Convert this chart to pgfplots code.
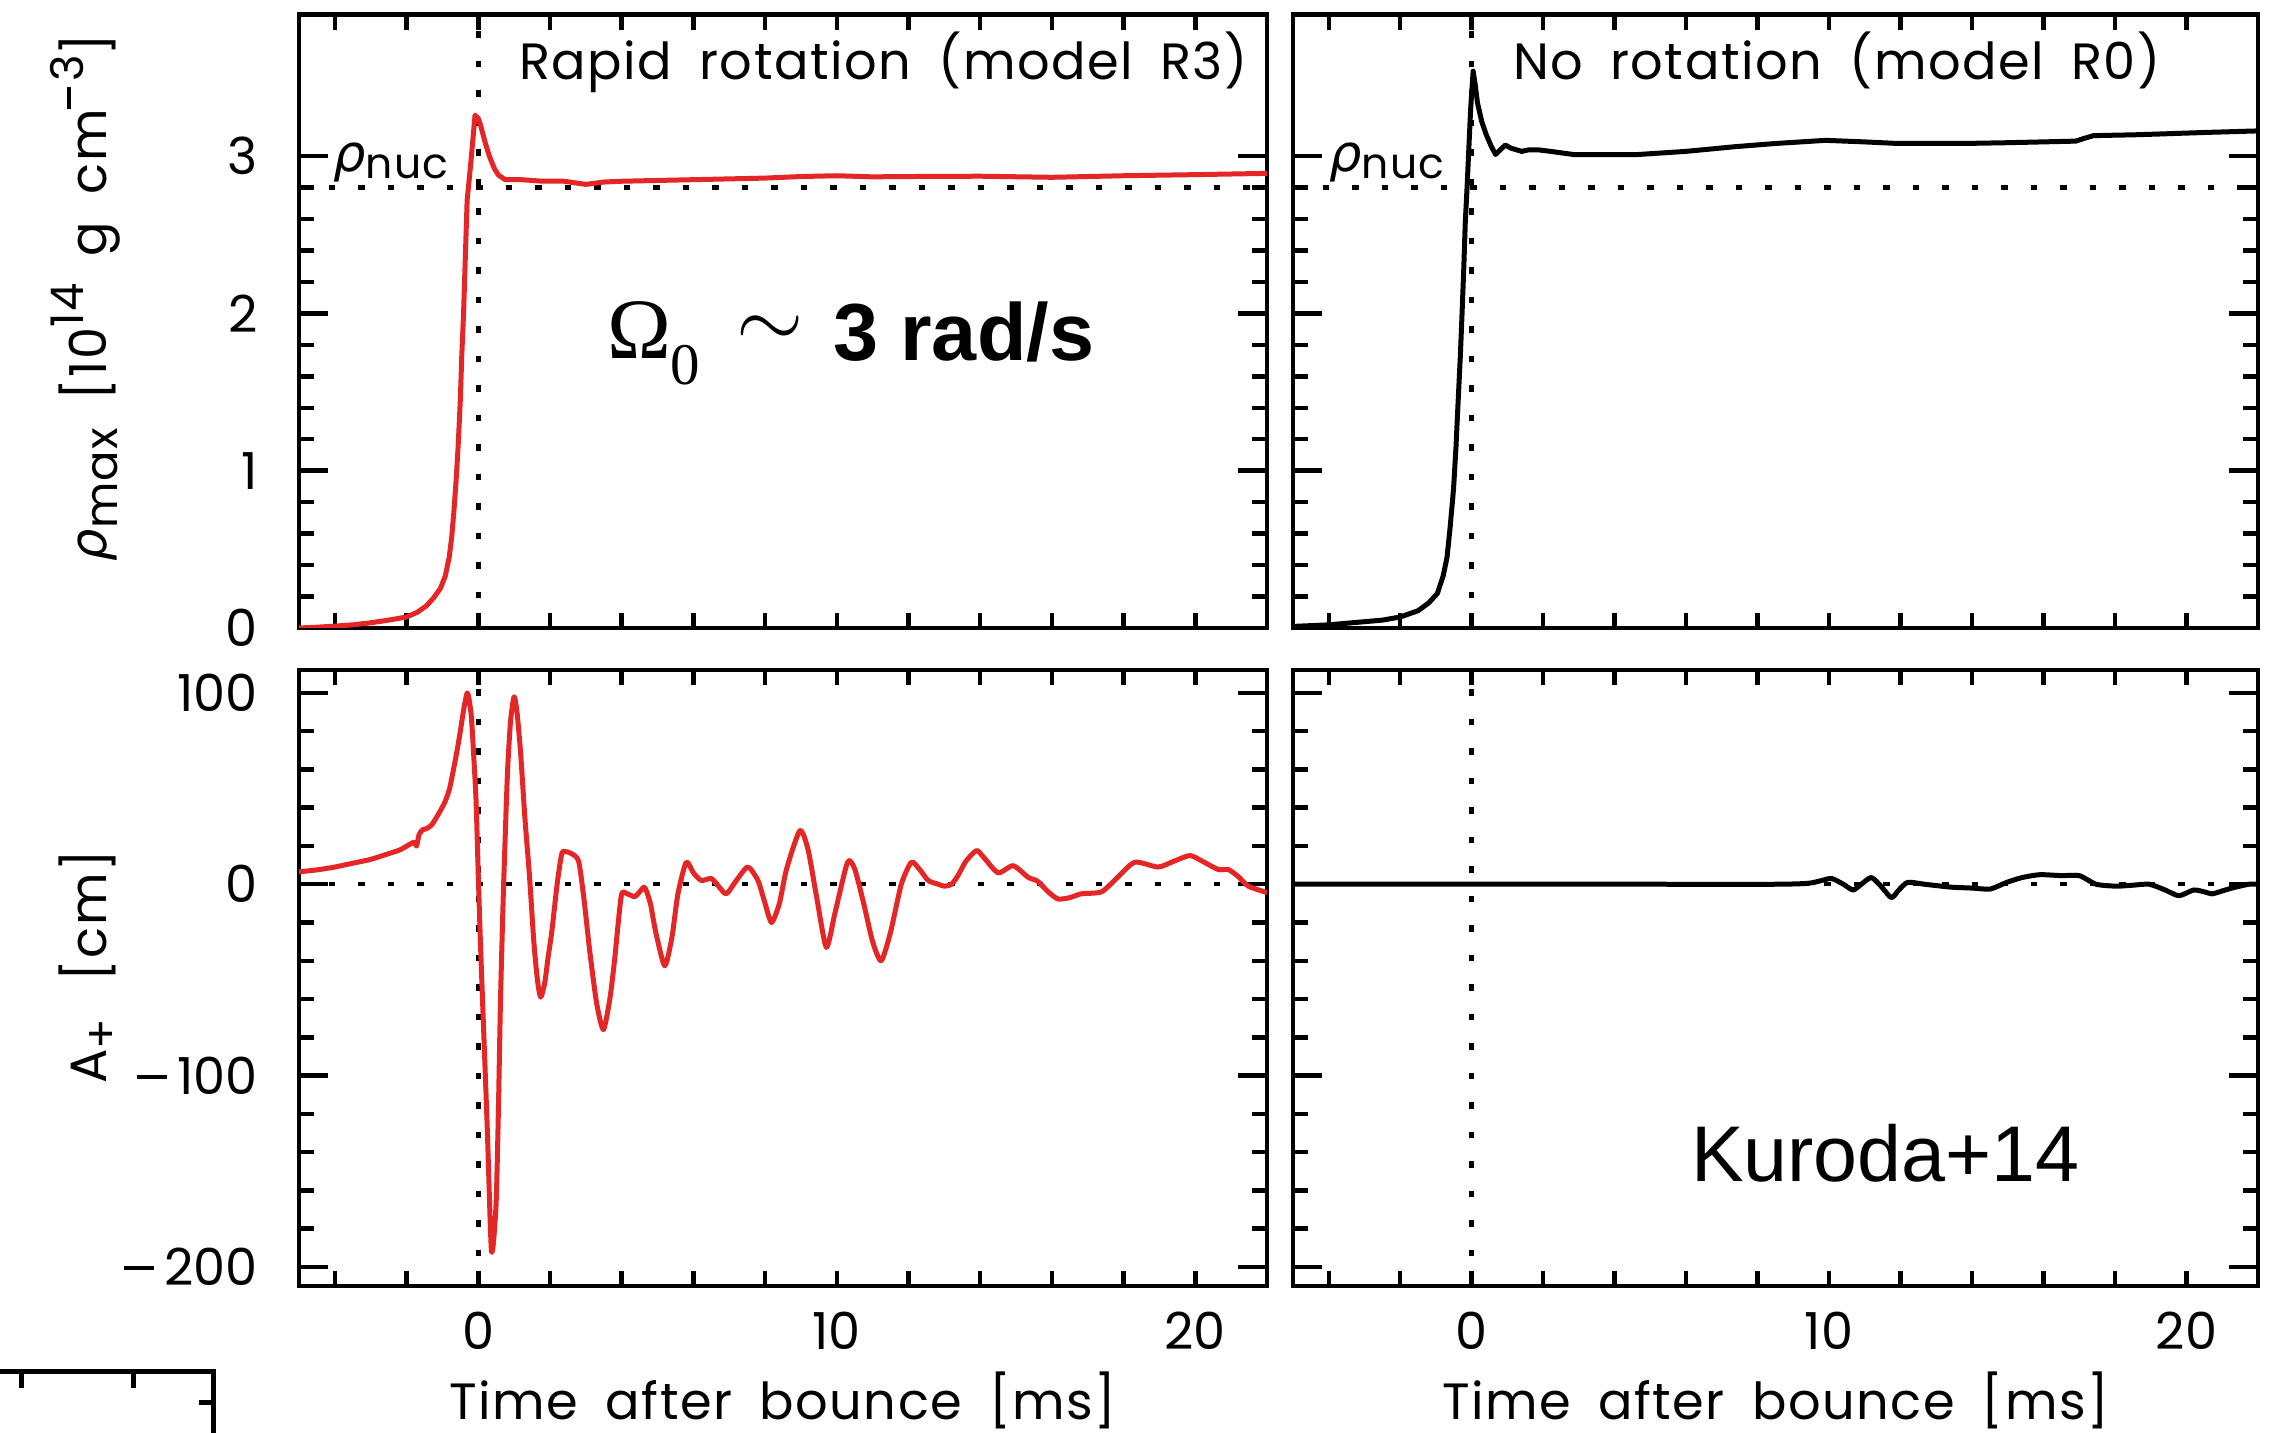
\documentclass[border=0pt]{standalone}
\usepackage{fontspec}
\setmainfont{Poppins}[LetterSpace=3, WordSpace=1.8]
\newfontfamily\tickfont{Poppins}[Numbers=Proportional]
\newfontfamily\dejavu{DejaVu Sans}
\newfontfamily\libsans{Liberation Sans}
\newfontfamily\libserif{Liberation Serif}
\usepackage{pgfplots}
\pgfplotsset{compat=1.18}
\definecolor{idlred}{RGB}{228,38,38}
\newcommand\tickminus{\rule[3.1pt]{6pt}{0.85pt}\hspace{2.2pt}}
\newcommand\smallsz{\fontsize{9}{10}\selectfont}
\pgfplotsset{
  panel/.style={
    scale only axis,
    anchor=south west,
    xmin=-5, xmax=22,
    xtick={0,10,20},
    minor xtick={-4,-2,...,22},
    major x tick style={draw=none},
    tick pos=both,
    tick align=inside,
    major tick length=5.8pt,
    minor tick length=3pt,
    axis line style={line width=0.9pt},
    every tick/.style={black, line width=0.9pt},
    /pgf/number format/assume math mode=true,
    tick label style={font=\tickfont\fontsize{10.2}{12}\selectfont},
    yticklabel style={anchor=east, inner sep=0pt, xshift=-8pt},
    xticklabel style={anchor=base, inner sep=0pt, yshift=-12.7pt},
  },
  toppanel/.style={panel, ymin=0, ymax=3.9, ytick={0,1,2,3}, minor y tick num=4, xticklabels={}},
  botpanel/.style={panel, ymin=-210, ymax=112, ytick={-200,-100,0,100}, minor y tick num=4},
  refline/.style={black, line width=0.9pt, dash pattern=on 1.3pt off 4.6pt},
  curve/.style={line width=1.0pt, line join=round},
}
\begin{document}
\begin{tikzpicture}
\useasboundingbox (0,0) rectangle (455pt,286.4pt);

% ---------- top left: R3 rho_max
\begin{axis}[toppanel, at={(59.8pt,160.8pt)}, width=193.6pt, height=122.7pt]
\addplot[refline] coordinates {(0,0) (0,3.9)};
\addplot[refline] coordinates {(-5,2.8) (22,2.8)};
\addplot[curve, idlred] coordinates {
(-5,0.0) (-4.5,0.005) (-4,0.012) (-3.5,0.02) (-3,0.033) (-2.5,0.05) (-2,0.07) (-1.7,0.1)
(-1.45,0.14) (-1.25,0.19) (-1.06,0.25) (-0.92,0.33) (-0.81,0.45) (-0.74,0.58) (-0.68,0.74)
(-0.62,0.93) (-0.56,1.16) (-0.5,1.45) (-0.46,1.73) (-0.41,2.0) (-0.37,2.29) (-0.31,2.72)
(-0.21,2.95) (-0.09,3.26) (0.0,3.24) (0.06,3.2) (0.2,3.08) (0.31,3.0) (0.45,2.92) (0.56,2.88)
(0.75,2.85) (1.2,2.85) (1.8,2.84) (2.4,2.84) (3.0,2.82) (3.5,2.835) (4.0,2.84) (5,2.845)
(6,2.85) (7,2.855) (8,2.86) (9,2.87) (10,2.875) (11,2.868) (12,2.87) (14,2.872) (16,2.865)
(18,2.875) (20,2.882) (22,2.89)};
\end{axis}

% ---------- top right: R0 rho_max
\begin{axis}[toppanel, at={(258.6pt,160.8pt)}, width=193pt, height=122.7pt, yticklabels={}]
\addplot[refline] coordinates {(0,0) (0,3.9)};
\addplot[refline] coordinates {(-5,2.8) (22,2.8)};
\addplot[curve, black] coordinates {
(-5,0.01) (-4.5,0.015) (-4,0.02) (-3.5,0.03) (-3,0.04) (-2.5,0.05) (-2,0.07) (-1.5,0.11)
(-1.2,0.16) (-0.96,0.22) (-0.8,0.33) (-0.69,0.45) (-0.6,0.65) (-0.51,0.88) (-0.44,1.15)
(-0.38,1.44) (-0.32,1.72) (-0.27,2.0) (-0.22,2.3) (-0.18,2.58) (-0.13,2.8) (-0.09,3.0)
(-0.03,3.3) (0.04,3.54) (0.1,3.45) (0.16,3.34) (0.28,3.22) (0.4,3.14) (0.55,3.06) (0.67,3.01)
(0.8,3.04) (0.94,3.07) (1.1,3.05) (1.4,3.03) (1.6,3.04) (1.85,3.04) (2.2,3.03) (2.85,3.01)
(3.5,3.01) (4.66,3.01) (6,3.03) (7.38,3.06) (8.5,3.08) (9.9,3.1) (11,3.09) (11.93,3.08)
(13.74,3.08) (15,3.085) (16.9,3.095) (17.1,3.11) (17.4,3.13) (18.5,3.135) (19.2,3.14)
(20.5,3.15) (22,3.16)};
\end{axis}

% ---------- bottom left: R3 A+
\begin{axis}[botpanel, at={(59.8pt,29.2pt)}, width=193.6pt, height=123.2pt,
  yticklabels={\tickminus200,\tickminus100,0,100}]
\addplot[refline] coordinates {(0,-210) (0,112)};
\addplot[refline] coordinates {(-5,0) (22,0)};
\addplot[curve, idlred, smooth, tension=0.4] coordinates {
(-5,6.5) (-4.5,7.5) (-4,9) (-3.5,11) (-3,13) (-2.5,16) (-2.18,18) (-1.9,21) (-1.78,22)
(-1.72,20) (-1.65,26) (-1.55,28.5) (-1.45,29) (-1.3,31) (-1.1,37) (-0.93,43) (-0.8,50)
(-0.68,61) (-0.58,71) (-0.5,80) (-0.4,92) (-0.31,100) (-0.25,96) (-0.19,87) (-0.12,65)
(-0.06,43) (0.0,5) (0.06,-30) (0.12,-61) (0.25,-127) (0.33,-175) (0.37,-192) (0.42,-188)
(0.5,-166) (0.56,-120) (0.62,-61) (0.7,-5) (0.81,56) (0.9,85) (1.0,98) (1.08,90) (1.18,69)
(1.3,35) (1.43,4) (1.55,-30) (1.65,-50) (1.74,-59) (1.85,-52) (1.95,-38) (2.05,-25) (2.2,0)
(2.33,16) (2.45,17) (2.6,16) (2.8,12) (2.95,-8) (3.11,-35) (3.3,-62) (3.49,-76) (3.67,-60)
(3.8,-40) (3.99,-6) (4.15,-5) (4.36,-6.5) (4.5,-4) (4.64,-1.6) (4.8,-10) (4.95,-25)
(5.2,-42.6) (5.4,-28) (5.57,-5) (5.8,11.5) (6.0,6) (6.22,2) (6.5,3) (6.7,-1) (6.92,-5)
(7.2,2) (7.52,9) (7.8,2) (8.0,-10) (8.18,-20) (8.4,-10) (8.6,8) (8.97,28) (9.2,18) (9.45,-8)
(9.71,-33) (9.95,-15) (10.3,11.5) (10.5,8) (10.75,-10) (11.0,-30) (11.24,-40) (11.5,-25)
(11.8,0) (12.08,11.5) (12.3,8) (12.55,2) (12.83,0) (13.0,-1) (13.2,0) (13.38,4.5) (13.6,12)
(13.9,17.6) (14.1,14) (14.5,6) (14.92,9.7) (15.34,3.6) (15.6,1.6) (15.9,-4) (16.17,-7.7)
(16.5,-7) (16.82,-5) (17.38,-4) (17.8,3) (18.31,11.5) (18.96,9) (19.4,12) (19.85,15)
(20.2,12) (20.64,7.7) (20.92,7.7) (21.2,4) (21.48,-1) (21.94,-4) (22,-4)};
\end{axis}

% ---------- bottom right: R0 A+
\begin{axis}[botpanel, at={(258.6pt,29.2pt)}, width=193pt, height=123.2pt, yticklabels={}]
\addplot[refline] coordinates {(0,-210) (0,112)};
\addplot[refline] coordinates {(-5,0) (22,0)};
\addplot[curve, black, smooth, tension=0.4] coordinates {
(-5,0) (0,0) (5,0) (8.5,0) (9.42,0.5) (9.8,2) (10.07,3) (10.4,0) (10.67,-3) (10.9,0)
(11.18,3.5) (11.45,-1) (11.74,-7) (11.95,-3) (12.2,1) (12.67,0) (13.4,-1.5) (14.0,-2)
(14.51,-2.5) (14.97,1) (15.4,3.5) (15.9,5) (16.5,4.5) (17.0,4.5) (17.47,0) (18.03,-1)
(18.5,-0.5) (18.96,0) (19.4,-3) (19.79,-6) (20.2,-3) (20.5,-4) (20.72,-5) (21.0,-3.5)
(21.27,-2) (21.74,0) (22,0)};
\end{axis}

% ---------- labels
\begin{scope}[every node/.style={inner sep=0pt, font=\fontsize{10.2}{12}\selectfont}]
\node[rotate=90, anchor=base] at (21.3pt,226.9pt)
  {{\dejavu\itshape ρ}\raisebox{-2.2pt}{\smallsz max} [10\raisebox{4.6pt}{\smallsz 14} g cm\raisebox{4.6pt}{\smallsz \rule[2.6pt]{4.5pt}{0.75pt}\hspace{1pt}3}]};
\node[rotate=90, anchor=base] at (21.3pt,93pt) {A\raisebox{-2.2pt}{\smallsz +}\hspace{2pt} [cm]};
\node[anchor=base] at (156.6pt,2.6pt) {Time after bounce [ms]};
\node[anchor=base] at (355.1pt,2.6pt) {Time after bounce [ms]};
\node[anchor=base west] at (103.6pt,270.4pt) {Rapid rotation (model R3)};
\node[anchor=base west] at (302.4pt,270.4pt) {No rotation (model R0)};
\node[anchor=base west] at (66.5pt,252.0pt)
  {{\dejavu\itshape ρ}\raisebox{-1.3pt}{\fontsize{8.5}{10}\selectfont nuc}};
\node[anchor=base west] at (265.7pt,252.0pt)
  {{\dejavu\itshape ρ}\raisebox{-1.3pt}{\fontsize{8.5}{10}\selectfont nuc}};
\end{scope}
\node[anchor=base west, inner sep=0pt] at (121.2pt,214.6pt)
  {\libserif\fontsize{17.2}{18}\selectfont Ω\raisebox{-5.2pt}{\fontsize{11.8}{12}\selectfont 0}};
\node[inner sep=0pt] at (154.1pt,220.1pt) {\fontsize{18}{19}\selectfont$\sim$};
\node[anchor=base west, inner sep=0pt] at (166.4pt,214.2pt)
  {\libsans\bfseries\fontsize{16.2}{17}\selectfont 3 rad/s};
\node[anchor=base west, inner sep=0pt] at (338pt,50.1pt)
  {\libsans\fontsize{15.8}{17}\selectfont Kuroda+14};

% ---------- stray frame fragment (bottom left corner)
\draw[line width=0.9pt] (0,12.1pt) -- (42.7pt,12.1pt) -- (42.7pt,-1pt);
\draw[line width=0.9pt] (4.3pt,12.1pt) -- (4.3pt,8.8pt);
\draw[line width=0.9pt] (26.7pt,12.1pt) -- (26.7pt,8.8pt);
\draw[line width=0.9pt] (42.7pt,5.9pt) -- (39.7pt,5.9pt);
\end{tikzpicture}
\end{document}
